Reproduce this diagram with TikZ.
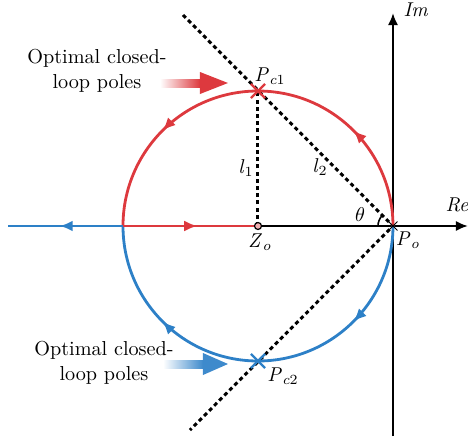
\documentclass[tikz,border=0pt]{standalone}
\usetikzlibrary{arrows.meta, positioning, decorations.markings, shapes.misc}
\definecolor{LocusRed}{RGB}{221,57,62}
\definecolor{LocusBlue}{RGB}{45,128,199}
\definecolor{HintBlue}{RGB}{62,138,204}

\begin{document}
\begin{tikzpicture}[
    x=0.5pt, y=0.5pt,
    font=\fontsize{10}{12.5}\selectfont,
    locus/.style={line width=1.4pt},
    axis/.style={line width=1pt, -{Latex[length=6pt,width=5pt]}},
    guide/.style={line width=1.5pt, dash pattern=on 2pt off 1.6pt},
    twoarrows/.style={postaction={decorate}, decoration={markings,
        mark=at position 0.25 with {\arrow{Latex[length=6.5pt,width=5.5pt]}},
        mark=at position 0.75 with {\arrow{Latex[length=6.5pt,width=5.5pt]}}}},
    onearrow/.style={postaction={decorate}, decoration={markings,
        mark=at position 0.55 with {\arrow{Latex[length=6.5pt,width=5.5pt]}}}},
    pole/.style={cross out, draw, line width=1.1pt, minimum size=6pt, inner sep=0pt},
    note/.style={align=center, font=\fontsize{10.1}{12.5}\selectfont},
    hint/.style={left color=white, right color=#1}
]
\useasboundingbox (-258,-210) rectangle (210,226);

% key points
\coordinate (Zo) at (0,0);
\coordinate (Po) at (135,0);
\coordinate (Lft) at (-135,0);
\coordinate (Wend) at (-250,0);
\coordinate (Reend) at (210,0);
\coordinate (Imtop) at (135,213);
\coordinate (Imbot) at (135,-210);
\coordinate (Ntop) at (-75,211);
\coordinate (Nbot) at (-68,-204);
\coordinate (Ptop) at (0,135);
\coordinate (Pbot) at (0,-135);

% axes
\draw[axis] (Imbot) -- (Imtop);
\draw[axis] (Zo) -- (Reend);
\node (imlbl) at (158,216) {\textit{Im}};
\node (relbl) at (199,21) {\textit{Re}};

% guide lines
\draw[guide] (Ntop) -- (Po) -- (Nbot);
\draw[guide] (Zo) -- (Ptop);
\draw[line width=0.8pt] (Po) ++(180:15) arc[start angle=180, end angle=135, radius=15];

% root locus
\draw[locus, LocusRed, twoarrows] (Po) arc[start angle=0, end angle=180, radius=135];
\draw[locus, LocusBlue, twoarrows] (Po) arc[start angle=0, end angle=-180, radius=135];
\draw[locus, LocusRed, onearrow] (Lft) -- (Zo);
\draw[locus, LocusBlue, onearrow] (Lft) -- (Wend);

% poles and zero
\node[pole, LocusRed] (Pc1) at (Ptop) {};
\node[pole, LocusBlue] (Pc2) at (Pbot) {};
\node[pole, line width=0.5pt, minimum size=4pt] (pomark) at (Po) {};
\node[circle, draw, line width=0.6pt, fill=LocusRed!40, minimum size=3.5pt, inner sep=0pt] (zomark) at (Zo) {};

% labels
\node (pc1lbl) at (12,150) {\textit{P}\textsubscript{\textit{c}1}};
\node (pc2lbl) at (25,-150) {\textit{P}\textsubscript{\textit{c}2}};
\node (zolbl) at (2,-16) {\textit{Z}\textsubscript{\textit{o}}};
\node (polbl) at (150,-14) {\textit{P}\textsubscript{\textit{o}}};
\node (l1lbl) at (-12,58) {\textit{l}\textsubscript{1}};
\node (l2lbl) at (62,59) {\textit{l}\textsubscript{2}};
\node (thlbl) at (102,11) {$\theta$};

% hints
\node[note] (optA) at (-161,155) {Optimal closed-\\loop poles};
\node[note] (optB) at (-154,-137) {Optimal closed-\\loop poles};
\shade[hint=LocusRed] (-98,139) rectangle (-58,147);
\fill[LocusRed] (-58,132) -- (-30,143) -- (-58,154) -- cycle;
\shade[hint=HintBlue] (-95,-142) rectangle (-55,-134);
\fill[HintBlue] (-55,-149) -- (-30,-138) -- (-55,-127) -- cycle;
\end{tikzpicture}
\end{document}
